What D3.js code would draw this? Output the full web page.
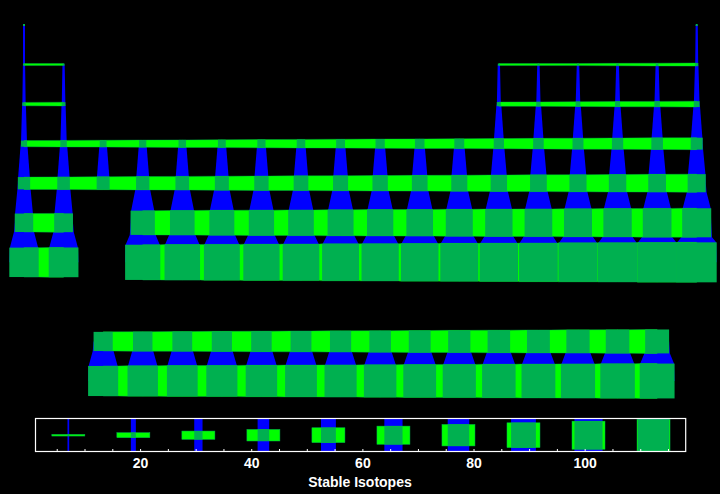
<!DOCTYPE html>
<html><head><meta charset="utf-8">
<script src="https://cdn.jsdelivr.net/npm/d3@7"></script>
<style>html,body{margin:0;padding:0;background:#000}svg{display:block}</style>
</head><body><svg id="c" width="720" height="494"></svg>
<script>
const _ = null;
// Element values by table row; each slot is one of the 18 table columns.
const row1  = [1,_,_,_,_,_,_,_,_,_,_,_,_,_,_,_,_,2];
const row2  = [3,4,_,_,_,_,_,_,_,_,_,_,5,6,7,8,9,10];
const row3  = [11,12,_,_,_,_,_,_,_,_,_,_,13,14,15,16,17,18];
const row4  = [19,20,21,22,23,24,25,26,27,28,29,30,31,32,33,34,35,36];
const row5  = [37,38,39,40,41,42,43,44,45,46,47,48,49,50,51,52,53,54];
const row6  = [55,56,_,72,73,74,75,76,77,78,79,80,81,82,83,84,85,86];
const row7  = [87,88,_,104,105,106,107,108,109,110,111,112,113,114,115,116,117,118];
const row8  = [_,_,_,_,_,_,_,_,_,_,_,_,_,_,_,_,_,_];
const row9  = [_,_,57,58,59,60,61,62,63,64,65,66,67,68,69,70,71,_];
const row10 = [_,_,89,90,91,92,93,94,95,96,97,98,99,100,101,102,103,_];
const rows = [row1,row2,row3,row4,row5,row6,row7,row8,row9,row10];
const legendValues = [7,18.7,30.4,42.1,53.8,65.5,77.2,88.9,100.6,112.3];
const legendTicks = [5,10,15,20,25,30,35,40,45,50,55,60,65,70,75,80,85,90,95,100,105,110,115];
const legendLabels = [20,40,60,80,100];
const legendTitle = "Stable Isotopes";

const BLUE="#0000ff", GREEN="#00ff00", DARK="#00b050";
const svg = d3.select("#c");
const x = d3.scaleLinear().domain([0,17]).range([24,696.7]);
const y = d3.scaleLinear().domain([0,9]).range([25,381]);
const sizeRaw = d3.scaleLinear().domain([1,118]).range([0,40]);
const size = v => Math.max(2, sizeRaw(v));
const path = d3.line().x(p=>p[0]).y(p=>p[1]).curve(d3.curveLinearClosed);

const cells = [], vLinks = [], hLinks = [];
rows.forEach((r,ri)=>r.forEach((v,ci)=>{
  if(v===null) return;
  const c = {v,ri,ci,cx:x(ci),cy:y(ri),s:size(v)};
  cells.push(c);
  const below = rows[ri+1] && rows[ri+1][ci];
  if(below) vLinks.push([c,{cx:x(ci),cy:y(ri+1),s:size(below)}]);
  const right = r[ci+1];
  if(right) hLinks.push([c,{cx:x(ci+1),cy:y(ri),s:size(right)}]);
}));

svg.append("g").selectAll("path").data(vLinks).join("path")
  .attr("fill",BLUE)
  .attr("d",([a,b])=>{
    const top = a.s + 0.15*(b.s-a.s), bot = b.s - 0.1*(b.s-a.s);
    return path([[a.cx-a.s/2,a.cy],[a.cx+a.s/2,a.cy],[a.cx+top/2,a.cy+a.s/2],
      [b.cx+bot/2,b.cy-b.s/2],[b.cx+b.s/2,b.cy],[b.cx-b.s/2,b.cy],[b.cx-bot/2,b.cy-b.s/2],[a.cx-top/2,a.cy+a.s/2]]);
  });
svg.append("g").selectAll("path").data(hLinks).join("path")
  .attr("fill",GREEN).attr("stroke",DARK).attr("stroke-width",0.4)
  .attr("d",([a,b])=>path([[a.cx,a.cy-a.s/2],[a.cx+a.s/2,a.cy-a.s/2],[b.cx-b.s/2,b.cy-b.s/2],[b.cx,b.cy-b.s/2],
    [b.cx,b.cy+b.s/2],[b.cx-b.s/2,b.cy+b.s/2],[a.cx+a.s/2,a.cy+a.s/2],[a.cx,a.cy+a.s/2]]));
svg.append("g").selectAll("rect").data(cells).join("rect")
  .attr("fill",DARK)
  .attr("x",d=>d.cx-d.s/2).attr("y",d=>d.cy-d.s/2)
  .attr("width",d=>d.s).attr("height",d=>d.s);

// Legend
const lx = d3.scaleLinear().domain([1,118]).range([35,685.2]);
const ly0 = 418.5, ly1 = 451.5, lcy = 435.2, barW = 33;
const ls = d3.scaleLinear().domain([1,118]).range([0,33]);
const defs = svg.append("defs");
defs.append("clipPath").attr("id","lc").append("rect")
  .attr("x",35.5).attr("y",ly0).attr("width",650.2).attr("height",ly1-ly0);
const lg = svg.append("g").attr("clip-path","url(#lc)");
const glyph = lg.selectAll("g").data(legendValues).join("g");
glyph.append("rect").attr("fill",BLUE)
  .attr("x",d=>lx(d)-ls(d)/2).attr("y",ly0).attr("width",d=>ls(d)).attr("height",ly1-ly0);
glyph.append("rect").attr("fill",GREEN).attr("stroke",DARK).attr("stroke-width",0.5)
  .attr("x",d=>lx(d)-barW/2).attr("y",d=>lcy-ls(d)/2).attr("width",barW).attr("height",d=>ls(d));
glyph.append("rect").attr("fill",DARK)
  .attr("x",d=>lx(d)-ls(d)/2).attr("y",d=>lcy-ls(d)/2).attr("width",d=>ls(d)).attr("height",d=>ls(d));
svg.append("rect").attr("x",35.5).attr("y",ly0).attr("width",650.2).attr("height",ly1-ly0)
  .attr("fill","none").attr("stroke","#fff").attr("stroke-width",1.2);

const axis = d3.axisBottom(lx).offset(0).tickValues(legendTicks).tickSizeInner(-2.5).tickSizeOuter(0)
  .tickPadding(7).tickFormat(d=>legendLabels.includes(d)?d:"");
const ag = svg.append("g").attr("transform",`translate(0,${ly1})`).call(axis);
ag.select(".domain").remove();
ag.selectAll(".tick line").attr("stroke","#fff").attr("stroke-width",1);
ag.selectAll(".tick text").attr("fill","#fff")
  .style("font","bold 14px 'Liberation Sans',Arial,sans-serif");

svg.append("text").attr("x",360).attr("y",486.5).attr("text-anchor","middle")
  .attr("fill","#fff").style("font","bold 14px 'Liberation Sans',Arial,sans-serif")
  .text(legendTitle);
</script></body></html>
